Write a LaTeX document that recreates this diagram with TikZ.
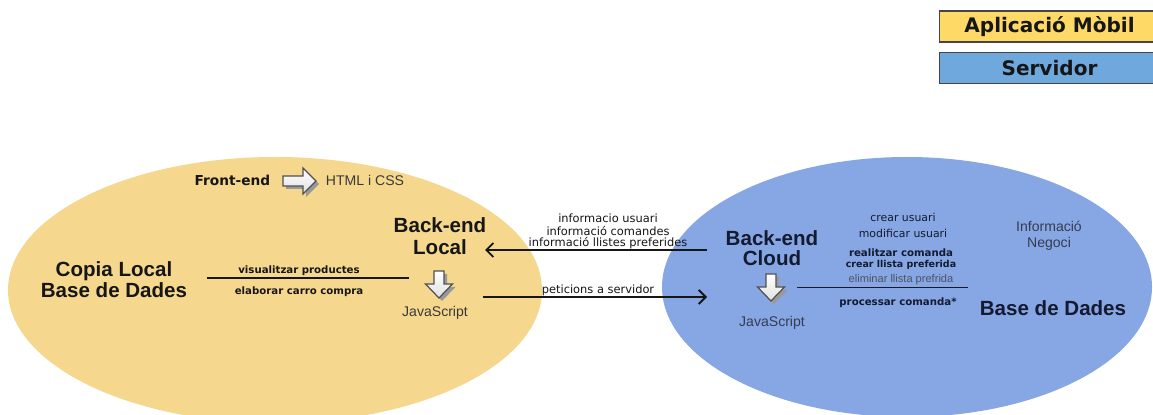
\documentclass[tikz,border=0pt]{standalone}
\usepackage{fontspec}
\setmainfont{Liberation Sans}
\newfontfamily\vf{DejaVu Sans}
\usetikzlibrary{arrows.meta}
\definecolor{ellY}{HTML}{F5D88E}
\definecolor{ellB}{HTML}{86A6E4}
\definecolor{legY}{HTML}{FFD966}
\definecolor{legB}{HTML}{6FA8DC}
\definecolor{ink}{HTML}{161616}
\definecolor{navy}{HTML}{141A30}
\tikzset{
  big/.style={font=\bfseries\fontsize{11.7}{11.6}\selectfont, align=center, inner sep=0, text=ink},
  arialm/.style={font=\fontsize{8}{9}\selectfont, align=center, inner sep=0, text=ink!85},
  vsm/.style={font=\vf\fontsize{6.5}{7}\selectfont, inner sep=0, text=ink},
  vsmb/.style={font=\vf\bfseries\fontsize{5.8}{7}\selectfont, inner sep=0, text=ink},
  legbox/.style={draw=ink!80, line width=0.6pt, minimum width=4.42cm, minimum height=0.62cm, inner sep=0,
     font=\vf\bfseries\fontsize{11.4}{13}\selectfont, text=ink},
  conn/.style={draw=ink, line width=1.1pt},
  arr/.style={conn, -{Straight Barb[length=4pt,width=8pt,line width=1.1pt]}},
  hollow/.style={draw=ink!75, line width=0.7pt, top color=white, bottom color=black!12, line join=miter},
  hshadow/.style={fill=black!40},
  pics/rarrowpic/.style={code={
    \fill[hshadow, shift={(3,3)}] (0,-5) -- (20,-5) -- (20,-13) -- (33,0) -- (20,13) -- (20,5) -- (0,5) -- cycle;
    \draw[hollow] (0,-5) -- (20,-5) -- (20,-13) -- (33,0) -- (20,13) -- (20,5) -- (0,5) -- cycle;
  }},
  pics/darrowpic/.style={code={
    \fill[hshadow, shift={(3,3)}] (-5,0) -- (5,0) -- (5,13) -- (13.5,13) -- (0,27) -- (-13.5,13) -- (-5,13) -- cycle;
    \draw[hollow] (-5,0) -- (5,0) -- (5,13) -- (13.5,13) -- (0,27) -- (-13.5,13) -- (-5,13) -- cycle;
  }}
}
\begin{document}
\begin{tikzpicture}[x=0.02cm, y=-0.02cm]
\useasboundingbox (0,0) rectangle (1153,415);
\clip (0,0) rectangle (1153,415);
\fill[white] (0,0) rectangle (1153,415);

% ellipses
\fill[ellY] (275,290) ellipse [x radius=267, y radius=133];
\fill[ellB] (907,287) ellipse [x radius=245, y radius=130];

% legend
\node[legbox, fill=legY] (legA) at (1049.5,26.5) {Aplicació Mòbil};
\node[legbox, fill=legB] (legS) at (1049.5,68) {Servidor};

% left side
\node[vsmb, font=\vf\bfseries\fontsize{7.8}{9}\selectfont] (front) at (232.5,180) {Front-end};
\pic at (283,181) {rarrowpic};
\node[arialm] (html) at (365,180) {HTML i CSS};

\node[big] (copia) at (114,279.5) {Copia Local\\Base de Dades};
\node[big, font=\bfseries\fontsize{11.7}{12.6}\selectfont] (bel) at (440,236) {Back-end\\Local};
\pic at (439,271) {darrowpic};
\node[arialm] (jsl) at (435,313) {JavaScript};

\coordinate (la) at (207,278);
\coordinate (lb) at (409,278);
\draw[conn] (la) -- (lb);
\node[vsmb] (vis) at (299,271) {visualitzar productes};
\node[vsmb] (ela) at (299,292) {elaborar carro compra};

% middle
\coordinate (ia) at (707,250);
\coordinate (ib) at (485,250);
\draw[arr] (ia) -- (ib);
\node[vsm] (i1) at (608,218) {informacio usuari};
\node[vsm] (i2) at (608,231) {informació comandes};
\node[vsm] (i3) at (608,243) {informació llistes preferides};

\coordinate (pa) at (483,297);
\coordinate (pb) at (707,297);
\draw[arr] (pa) -- (pb);
\node[vsm] (pet) at (598,290) {peticions a servidor};

% right side
\node[big, text=navy] (bec) at (772,248) {Back-end\\Cloud};
\pic at (771,274) {darrowpic};
\node[arialm, text=navy!85] (jsc) at (772,323) {JavaScript};

\coordinate (ca) at (797,287.5);
\coordinate (cb) at (968,287.5);
\draw[conn, draw=navy] (ca) -- (cb);
\node[vsm, text=navy, font=\vf\fontsize{6.2}{7}\selectfont] (r1) at (903,217) {crear usuari};
\node[vsm, text=navy, font=\vf\fontsize{6.2}{7}\selectfont] (r2) at (903,233) {modificar usuari};
\node[vsmb, text=navy] (r3) at (901,253) {realitzar comanda};
\node[vsmb, text=navy, font=\vf\bfseries\fontsize{5.4}{7}\selectfont] (r4) at (901,265) {crear llista preferida};
\node[vsm, text=navy!75, font=\fontsize{6.3}{7}\selectfont] (r5) at (901,280) {eliminar llista prefrida};
\node[vsmb, text=navy] (r6) at (898,303) {processar comanda*};

\node[arialm, text=navy!85] (neg) at (1049,236) {Informació\\Negoci};
\node[big, text=navy] (bdd) at (1053,308) {Base de Dades};
\end{tikzpicture}
\end{document}
